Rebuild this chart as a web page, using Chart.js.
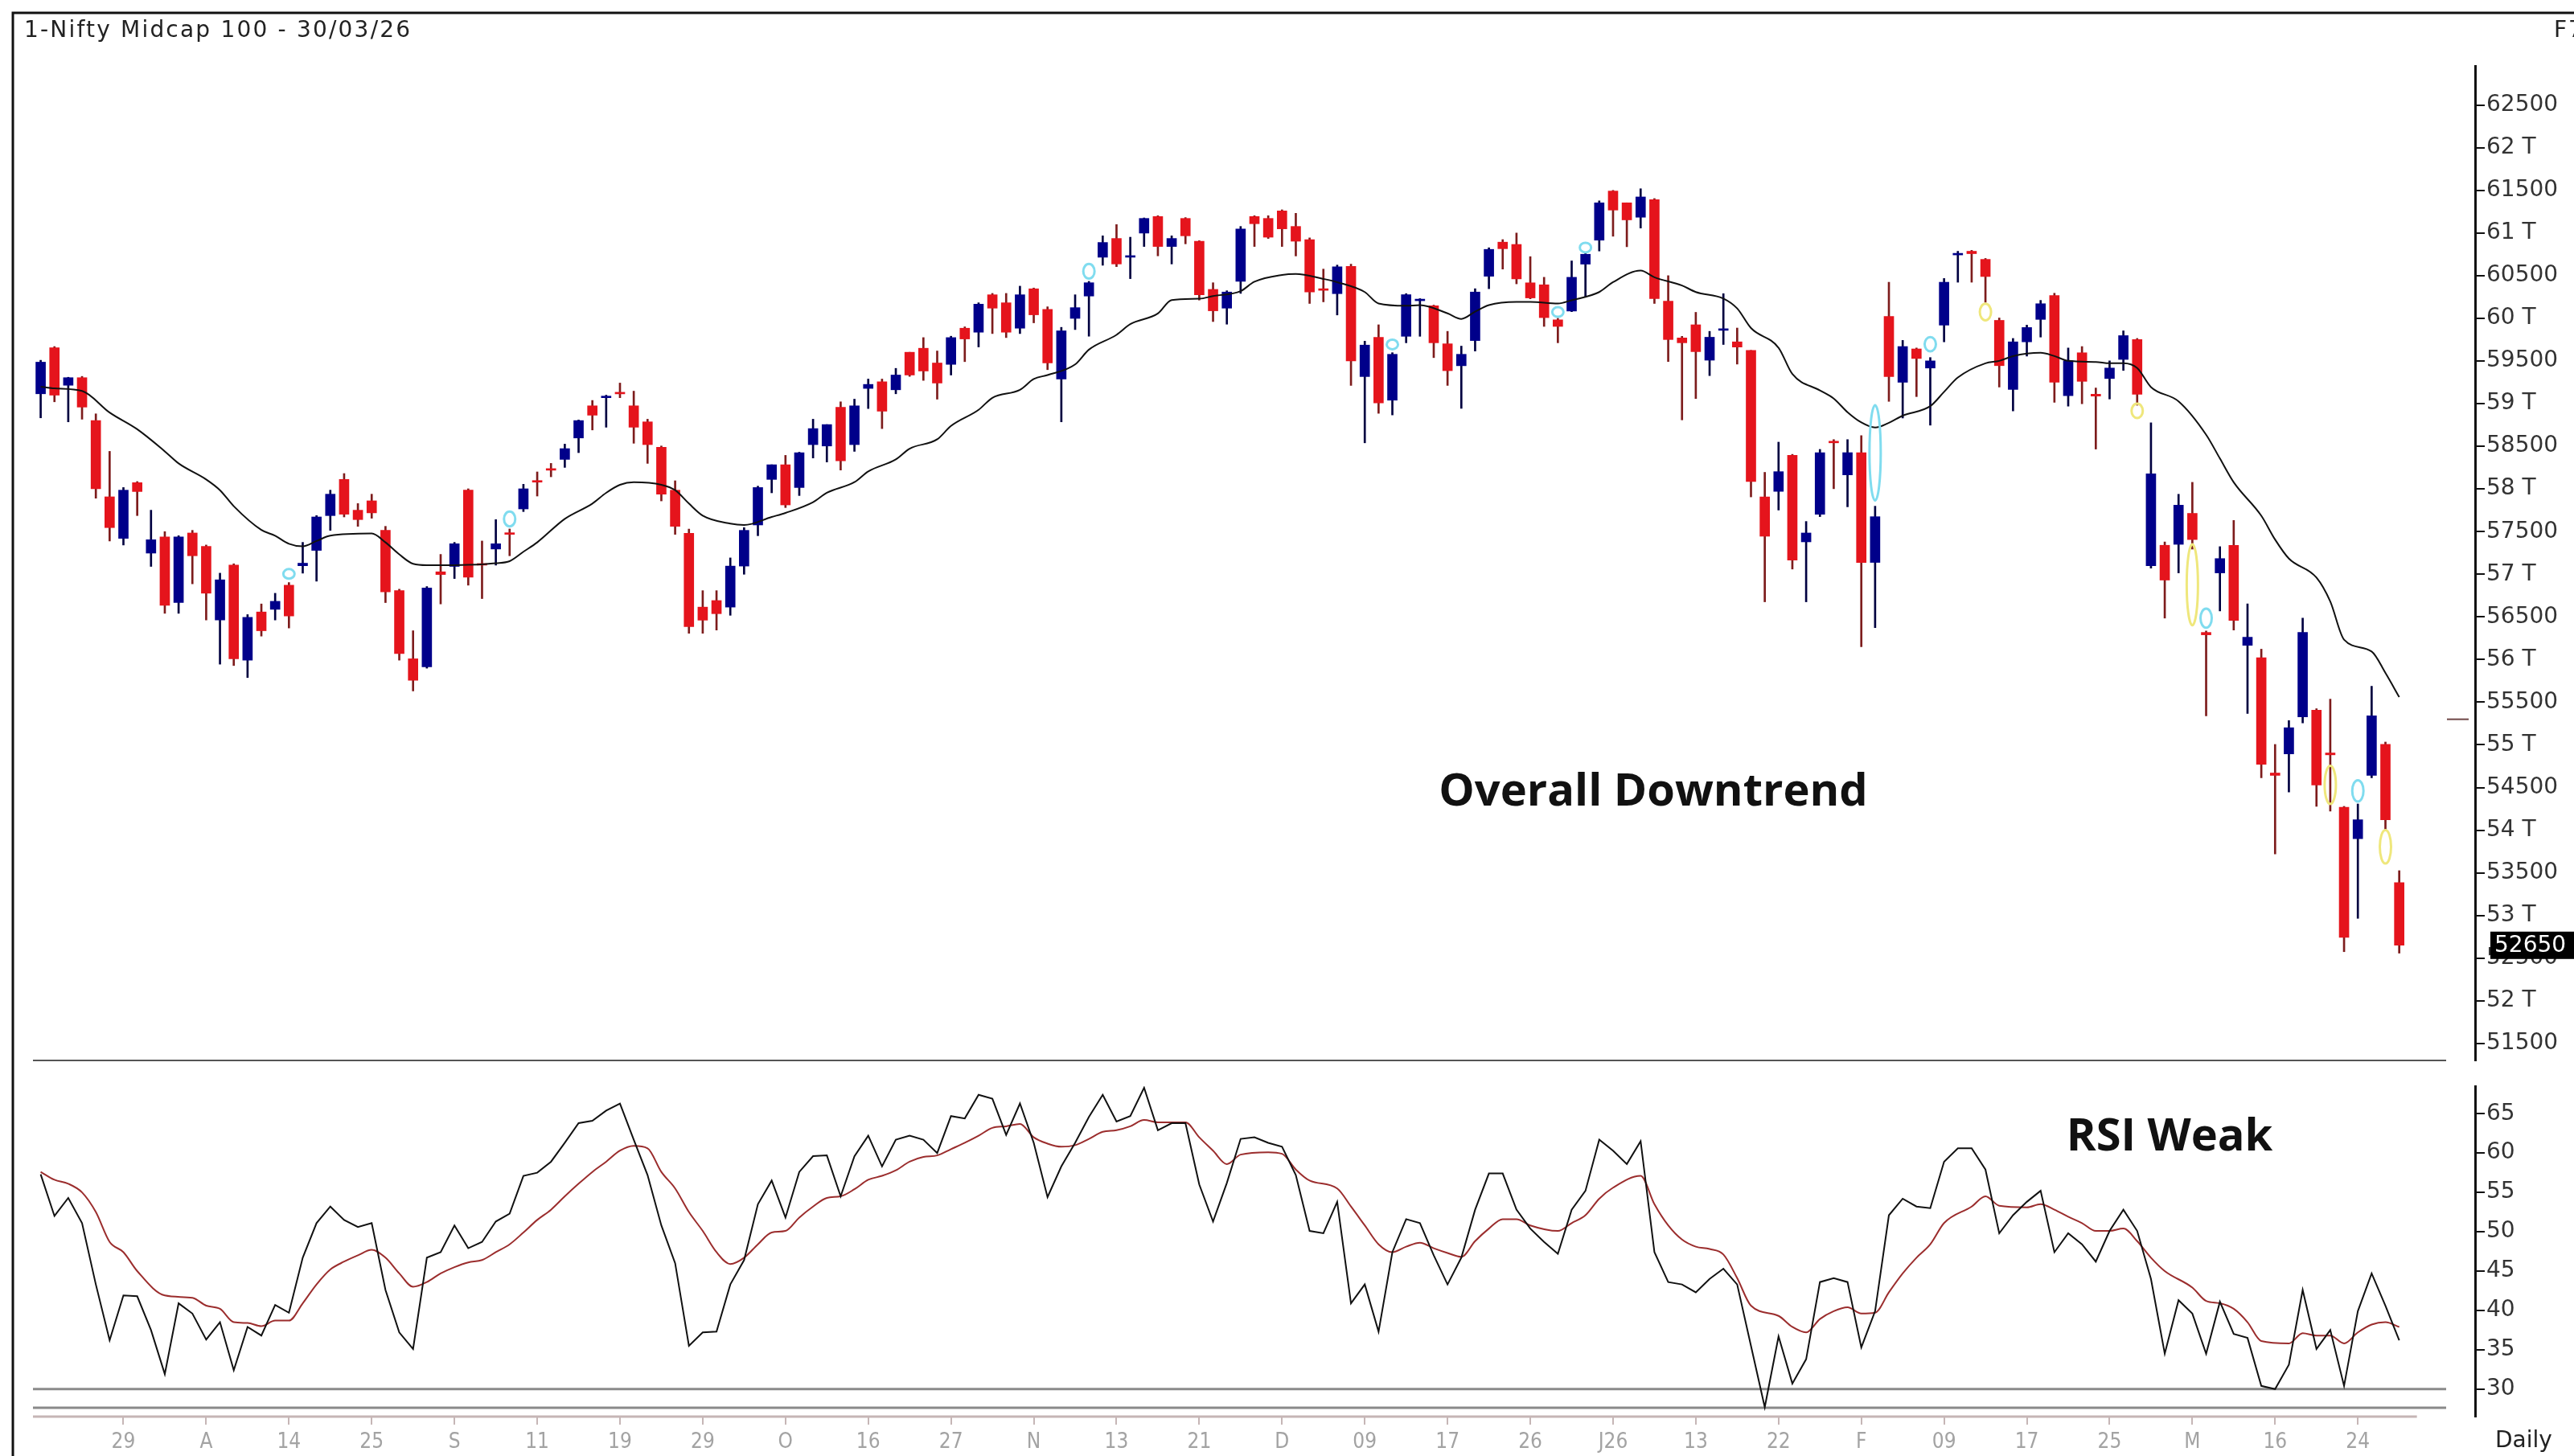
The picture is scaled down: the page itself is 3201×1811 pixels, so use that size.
<!DOCTYPE html>
<html>
<head>
<meta charset="utf-8">
<title>Nifty Midcap 100 - Daily</title>
<script src="https://cdn.jsdelivr.net/npm/chart.js@4.4.1/dist/chart.umd.min.js"></script>
<style>
  html, body { margin: 0; padding: 0; background: #fff; }
  #page { position: relative; width: 3201px; height: 1811px; overflow: hidden; background: #fff; }
  canvas { position: absolute; left: 0; }
  #priceChart { top: 0; }
  #rsiChart { top: 1330px; }
  .label { position: absolute; white-space: nowrap; line-height: 1; color: #222; font-family: "DejaVu Sans", sans-serif; }
  #title { left: 30px; top: 23px; font-size: 28px; letter-spacing: 2.2px; }
  #fkey { left: 3176px; top: 23px; font-size: 28px; letter-spacing: 2px; }
  #daily { left: 3103px; top: 1777px; font-size: 28px; }
  .note { position: absolute; white-space: nowrap; line-height: 1; transform: translate(-50%, -50%);
          font-family: "Open Sans", sans-serif; font-weight: 700; font-size: 56px; color: #111; }
  #downtrend { left: 2056px; top: 980px; }
  #rsiWeak { left: 2698px; top: 1409px; }
</style>
</head>
<body>
<div id="page">
  <canvas id="priceChart" width="3201" height="1330"></canvas>
  <canvas id="rsiChart" width="3201" height="481"></canvas>
  <div class="label" id="title">1-Nifty Midcap 100 - 30/03/26</div>
  <div class="label" id="fkey">F7</div>
  <div class="label" id="daily">Daily</div>
  <div class="note" id="downtrend">Overall Downtrend</div>
  <div class="note" id="rsiWeak">RSI Weak</div>
</div>
<script>
// daily candles, oldest first
const opens = [
  59116,59656,59216,59305,58802,57908,57421,58074,57248,57437,
  56668,57484,57327,56464,57107,55993,56558,56589,56872,57100,
  57280,57688,58112,57751,57861,57515,56809,56009,55915,57029,
  57092,57986,57123,57296,57484,57766,58096,58237,58347,58598,
  58975,59070,59125,58975,58787,58489,57986,57481,56615,56692,
  56615,57096,57578,58112,58284,58017,58520,58504,58959,58520,
  59179,59257,59163,59603,59650,59477,59461,59885,59838,60277,
  60183,59885,60347,60105,59289,60000,60262,60717,60937,60717,
  61000,61194,60843,61172,60905,60340,60120,60434,61194,61172,
  61260,61078,60924,60340,60290,60609,59318,59779,59041,59790,
  60207,60148,59702,59445,59740,60494,60894,60867,60417,60394,
  59983,60086,60636,60917,61493,61355,61186,61393,60202,59771,
  59925,59510,59860,59725,59625,57907,57972,58395,57380,57703,
  58560,58165,58426,57139,60022,59251,59642,59418,59921,60744,
  60787,60692,59977,59167,59725,59988,60267,59094,59597,59111,
  59295,59519,59753,57100,57340,57351,57714,56318,57016,57340,
  56167,56022,54670,54894,55329,55407,54905,54268,53900,54642,
  55005,53385
];
const highs = [
  59509,59670,59310,59320,58881,58441,58017,58087,57751,57500,
  57452,57515,57343,57013,57123,56527,56652,56777,56903,57374,
  57688,57986,58181,57829,57939,57562,56825,56338,56856,57233,
  57374,58002,57390,57641,57531,58055,58200,58300,58526,58809,
  59038,59100,59242,59147,58818,58504,58096,57530,56808,56808,
  57192,57547,58033,58284,58394,58431,58818,58755,59022,59053,
  59289,59289,59414,59603,59775,59618,59791,59901,60183,60293,
  60293,60378,60356,60136,59895,60277,60434,60968,61100,60952,
  61178,61204,60968,61182,60911,60418,60324,61078,61204,61204,
  61273,61232,60944,60578,60625,60636,59733,59925,59598,60290,
  60232,60156,59848,59675,60348,60828,60924,61001,60724,60482,
  60002,60674,60771,61378,61501,61355,61520,61405,60501,59790,
  60071,59848,60290,59887,59625,58195,58549,58406,57619,58464,
  58579,58579,58625,57798,60424,59742,59653,59541,60468,60787,
  60798,60703,60005,59765,59921,60211,60295,59653,59670,59184,
  59502,59854,59765,58776,57379,57938,58078,56335,57324,57631,
  56653,56122,55005,55285,56486,55424,55536,54279,54307,55687,
  55033,53525
];
const lows = [
  58834,59022,58787,58818,57892,57390,57343,57688,57092,56542,
  56542,56888,56464,55946,55930,55789,56275,56464,56370,57013,
  56919,57515,57672,57562,57657,56668,55993,55632,55899,56652,
  56950,56872,56715,57107,57217,57735,57917,58143,58253,58426,
  58692,58724,59070,58536,58300,57860,57468,56308,56308,56346,
  56519,57000,57452,57955,57782,57923,58363,58316,58222,58441,
  58943,58708,59116,59320,59273,59053,59336,59493,59665,59822,
  59775,59822,59948,59399,58787,59869,59791,60623,60607,60466,
  60843,60733,60638,60874,60215,59963,59932,60293,60843,60937,
  60843,60732,60175,60194,60040,59214,58541,58887,58868,59714,
  59790,59540,59214,58945,59617,60348,60578,60405,60230,59906,
  59714,60079,60252,60790,60963,60840,61059,60175,59494,58810,
  59060,59329,59694,59464,57907,56677,57753,57061,56677,57676,
  58003,57791,56150,56374,59027,58832,59083,58748,59725,60424,
  60424,60189,59195,58915,59558,59781,59016,58971,58999,58468,
  59055,59390,58982,57072,56486,57016,57295,55340,56570,56346,
  55368,54614,53721,54447,55257,54279,54223,52575,52966,54614,
  54011,52558
];
const closes = [
  59487,59100,59305,58960,58002,57547,57986,57970,57405,56636,
  57437,57217,56778,56935,56009,56495,56338,56683,56511,57130,
  57672,57939,57704,57641,57720,56793,56071,55757,56840,56997,
  57358,56966,57107,57358,57468,58002,58080,58220,58473,58802,
  58865,59075,59115,58724,58520,57939,57562,56385,56462,56538,
  57096,57515,58017,58284,57813,58425,58708,58755,58331,58975,
  59226,58912,59336,59336,59383,59242,59775,59759,60167,60120,
  59838,60277,60042,59477,59854,60126,60418,60890,60638,60730,
  61172,60843,60937,60968,60277,60089,60309,61047,61110,60952,
  61050,60905,60309,60329,60605,59502,59687,59010,59579,60278,
  60213,59714,59387,59579,60309,60809,60817,60463,60240,60009,
  59906,60482,60752,61355,61270,61155,61424,60233,59752,59714,
  59610,59779,59868,59664,58088,57446,58203,57165,57484,58426,
  58541,58426,57139,57675,59318,59670,59530,59502,60424,60750,
  60759,60491,59446,59725,59893,60172,59251,59502,59262,59089,
  59418,59798,59111,58178,56932,57810,57407,56290,57184,56458,
  56262,54771,54642,55201,56318,54530,54883,52743,54122,55340,
  54122,52650
];

// moving average line (null where it was not read)
const movingAvg = [
  59200,59180,null,59150,null,58896,null,58700,null,58441,
  58300,null,58112,57986,57798,null,57520,57452,57358,57327,
  57390,57452,null,null,57478,57374,57233,57123,57107,null,
  57107,57110,null,57130,57154,57264,57374,null,57650,null,
  57829,57955,58049,58080,null,58049,57986,57829,57688,null,
  57594,57578,null,57672,57719,null,57845,57955,null,58080,
  58206,null,58347,58473,null,58582,58739,null,58928,59069,
  null,59163,59289,59336,null,59461,59634,null,59807,59932,
  null,60058,60215,null,60230,60262,null,60320,60430,null,
  60510,60521,null,60463,60425,null,60309,60175,null,60148,
  60156,null,60059,59994,60079,60156,null,60194,60194,null,
  60175,60213,null,60309,60425,null,60560,60482,null,60386,
  60309,null,60233,60117,59887,null,59656,59348,null,59156,
  59060,58900,58780,58720,58776,58860,null,58971,59139,59307,
  null,59474,59502,59558,null,59597,59558,59502,null,59490,
  59474,59474,59418,59195,null,59027,null,58636,58357,58078,
  null,57686,57407,57184,null,56961,56681,56234,null,56095,
  55843,55560
];

// RSI and its signal line
const rsi = [
  57.3,52.0,54.3,51.1,43.3,36.2,41.9,41.8,37.5,31.9,
  40.9,39.6,36.3,38.5,32.4,37.9,36.8,40.7,39.7,46.7,
  51.1,53.2,51.5,50.6,51.1,42.6,37.2,35.1,46.7,47.4,
  50.8,47.9,48.7,51.3,52.3,57.1,57.5,58.9,61.3,63.8,
  64.1,65.4,66.3,61.7,57.2,50.8,46.0,35.5,37.2,37.3,
  43.3,46.4,53.5,56.5,51.8,57.6,59.6,59.7,54.5,59.6,
  62.2,58.3,61.7,62.2,61.7,60.0,64.7,64.4,67.4,66.9,
  62.3,66.3,61.3,54.4,58.3,61.3,64.6,67.4,64.0,64.7,
  68.3,62.9,63.8,63.8,56.0,51.3,56.2,61.8,62.0,61.3,
  60.8,57.2,50.1,49.8,53.8,40.9,43.3,37.3,47.4,51.6,
  51.1,47.0,43.3,46.7,52.8,57.4,57.4,52.8,50.4,48.7,
  47.2,52.8,55.2,61.7,60.3,58.6,61.5,47.4,43.6,43.3,
  42.3,44.0,45.3,43.3,35.5,27.7,36.7,30.7,33.8,43.6,
  44.1,43.6,35.3,39.9,52.1,54.2,53.2,53.0,58.9,60.6,
  60.6,57.9,49.8,52.1,53.8,55.2,47.4,49.8,48.4,46.2,
  50.1,52.8,50.1,44.0,34.5,41.3,39.6,34.5,41.1,37.0,
  36.5,30.4,30.0,33.1,42.6,35.1,37.5,30.4,39.9,44.7,
  40.6,36.2
];
const rsiSignal = [
  57.6,56.6,56.1,55.0,52.5,48.7,47.4,45.0,null,41.9,
  null,41.6,40.6,40.2,38.5,38.4,38.0,38.7,38.7,40.9,
  43.3,45.2,46.2,47.0,47.7,46.7,44.7,43.0,43.6,44.7,
  45.5,46.1,46.4,47.4,48.4,49.9,51.5,52.8,54.5,56.1,
  57.6,58.9,60.3,60.9,60.6,57.6,55.5,52.5,50.1,47.4,
  45.9,46.7,48.4,49.9,50.1,51.8,53.2,54.3,54.5,55.4,
  56.6,57.1,57.8,58.9,59.5,59.7,60.5,61.3,62.2,63.2,
  63.4,63.7,62.0,61.2,60.8,61.0,61.8,62.7,62.9,63.4,
  64.2,63.9,63.9,63.9,62.0,60.3,58.6,59.8,null,60.1,
  59.9,57.9,56.5,null,55.5,53.2,50.8,48.4,47.4,48.1,
  48.6,47.9,47.3,46.8,48.8,50.4,51.6,51.6,50.8,null,
  50.1,51.1,52.1,54.2,55.6,null,57.1,53.5,50.8,49.0,
  48.1,47.8,47.1,44.1,40.6,null,39.3,37.9,37.2,38.9,
  39.9,40.4,39.6,39.7,42.3,44.7,46.7,48.4,51.1,null,
  53.2,54.5,53.3,null,53.1,53.5,52.8,51.9,51.1,50.1,
  50.1,50.4,48.8,46.7,45.0,null,42.9,41.2,40.9,40.2,
  38.5,36.1,null,35.8,37.1,36.8,36.8,35.8,37.2,38.2,
  38.5,37.9
];

// date labels, one every 6 bars
const tickLabels = ['29','A','14','25','S','11','19','29','O','16','27','N','13','21',
                    'D','09','17','26','J26','13','22','F','09','17','25','M','16','24'];
// value axis ticks
const priceTicks = [51500,52000,52500,53000,53500,54000,54500,55000,55500,56000,56500,57000,
                    57500,58000,58500,59000,59500,60000,60500,61000,61500,62000,62500];
const rsiTicks = [30, 35, 40, 45, 50, 55, 60, 65];

// pattern markers drawn as small ellipses
const markBars  = [18, 34, 76, 98, 110, 112, 133, 137, 157, 168, 141, 152, 156, 166, 170];
const markLows  = [56950, 57562, 60466, 59648, 60040, 60790, 57865, 59614, 56374, 54335, 59977, 58832, 56402, 54307, 53609];
const markHighs = [57060, 57735, 60638, 59740, 60110, 60870, 58982, 59781, 56597, 54586, 60172, 59000, 57351, 54754, 54000];
const markKinds = ['cyan','cyan','cyan','cyan','cyan','cyan','cyan','cyan','cyan','cyan',
                   'yellow','yellow','yellow','yellow','yellow'];
const sideMarkLevel = 55300;

const barsPerTick = 6;
const blankBars = 5;
const axisWidth = 123;

const upColor = '#00008a';
const downColor = '#e5141c';
const upWick = '#000040';
const downWick = '#7d1c1c';
const markColors = { cyan: '#80dcef', yellow: '#efe77c' };
const axisFont = { family: 'DejaVu Sans', size: 28 };

Chart.defaults.font.family = 'DejaVu Sans';

const categories = Array.from({ length: closes.length + blankBars }, (_, i) => i);
const isUp = closes.map((c, i) => c >= opens[i]);

function hline(ctx, x1, x2, y) {
    ctx.beginPath();
    ctx.moveTo(x1, y);
    ctx.lineTo(x2, y);
    ctx.stroke();
}

function tickLabelAt(index) {
    if (index === 0 || index % barsPerTick !== 0) return '';
    return tickLabels[index / barsPerTick - 1] || '';
}

function rightAxis(min, max, tickValues, callback) {
    return {
        position: 'right',
        min: min,
        max: max,
        afterFit: scale => {
            // fixed axis width, and no extra room for the end labels
            scale.width = axisWidth;
            scale.paddingTop = 0;
            scale.paddingBottom = 0;
        },
        afterBuildTicks: scale => { scale.ticks = tickValues.map(v => ({ value: v })); },
        ticks: { autoSkip: false, padding: 2, color: '#333', font: axisFont, callback: callback },
        grid: { drawOnChartArea: false, drawTicks: true, tickLength: 12, color: '#111', lineWidth: 2 },
        border: { display: true, color: '#111', width: 3 }
    };
}

// frame, separators, pattern ellipses and the last price tag
const priceDecor = {
    id: 'priceDecor',
    afterDraw(chart) {
        const { ctx, chartArea, scales, width, height } = chart;
        const xs = scales.x, ys = scales.y;
        ctx.save();
        ctx.strokeStyle = '#111';
        ctx.lineWidth = 3;
        ctx.beginPath();
        ctx.moveTo(16, height);
        ctx.lineTo(16, 16);
        ctx.lineTo(width, 16);
        ctx.stroke();

        ctx.strokeStyle = '#555';
        ctx.lineWidth = 2;
        hline(ctx, chartArea.left - 1, chartArea.right - 36, chartArea.bottom);

        ctx.strokeStyle = '#6e4545';
        hline(ctx, chartArea.right - 35, chartArea.right - 8, ys.getPixelForValue(sideMarkLevel));

        ctx.lineWidth = 3;
        markBars.forEach((b, k) => {
            const cx = xs.getPixelForValue(b);
            const y1 = ys.getPixelForValue(markHighs[k]);
            const y2 = ys.getPixelForValue(markLows[k]);
            ctx.strokeStyle = markColors[markKinds[k]];
            ctx.beginPath();
            ctx.ellipse(cx, (y1 + y2) / 2, 7, Math.max((y2 - y1) / 2, 6), 0, 0, Math.PI * 2);
            ctx.stroke();
        });

        const last = closes[closes.length - 1];
        const py = ys.getPixelForValue(last);
        ctx.fillStyle = '#000';
        ctx.fillRect(chartArea.right + 19, py - 17, width - chartArea.right - 19, 34);
        ctx.fillStyle = '#fff';
        ctx.font = '28px "DejaVu Sans"';
        ctx.textBaseline = 'middle';
        ctx.fillText(String(last), chartArea.right + 24, py + 1);
        ctx.restore();
    }
};

const rsiDecor = {
    id: 'rsiDecor',
    beforeDatasetsDraw(chart) {
        const { ctx, chartArea, scales } = chart;
        ctx.save();
        ctx.strokeStyle = '#8a8a8a';
        ctx.lineWidth = 3;
        hline(ctx, chartArea.left - 1, chartArea.right - 36, scales.y.getPixelForValue(30));
        hline(ctx, chartArea.left - 1, chartArea.right - 36, chartArea.bottom - 11);

        const xEnd = scales.x.getPixelForValue(closes.length - 1) + 22;
        ctx.strokeStyle = '#c6b6b6';
        hline(ctx, chartArea.left - 1, xEnd, chartArea.bottom);
        ctx.lineWidth = 2;
        for (let i = barsPerTick; i < closes.length; i += barsPerTick) {
            const x = Math.round(scales.x.getPixelForValue(i));
            ctx.beginPath();
            ctx.moveTo(x, chartArea.bottom);
            ctx.lineTo(x, chartArea.bottom + 10);
            ctx.stroke();
        }
        ctx.restore();
    },
    afterDraw(chart) {
        const { ctx, height } = chart;
        ctx.save();
        ctx.strokeStyle = '#111';
        ctx.lineWidth = 3;
        ctx.beginPath();
        ctx.moveTo(16, 0);
        ctx.lineTo(16, height);
        ctx.stroke();
        ctx.restore();
    }
};

const common = {
    responsive: false,
    animation: false,
    devicePixelRatio: 1,
    events: [],
    plugins: { legend: { display: false }, tooltip: { enabled: false } }
};

new Chart(document.getElementById('priceChart'), {
    type: 'bar',
    data: {
        labels: categories,
        datasets: [
            {
                label: 'wick',
                data: lows.map((l, i) => [l, highs[i]]),
                backgroundColor: isUp.map(u => u ? upWick : downWick),
                barThickness: 2,
                grouped: false,
                order: 3
            },
            {
                label: 'body',
                data: opens.map((o, i) => [o, closes[i]]),
                backgroundColor: isUp.map(u => u ? upColor : downColor),
                barThickness: 12,
                minBarLength: 2,
                grouped: false,
                order: 2
            },
            {
                type: 'line',
                label: 'MA',
                data: movingAvg,
                borderColor: '#111',
                borderWidth: 2,
                pointRadius: 0,
                spanGaps: true,
                cubicInterpolationMode: 'monotone',
                order: 1
            }
        ]
    },
    options: {
        ...common,
        layout: { padding: { left: 42, right: 0, top: 82, bottom: 11 } },
        scales: {
            x: { display: false, offset: true },
            y: rightAxis(51300, 62960, priceTicks, v => v % 1000 === 0 ? (v / 1000) + ' T' : String(v))
        }
    },
    plugins: [priceDecor]
});

new Chart(document.getElementById('rsiChart'), {
    type: 'line',
    data: {
        labels: categories,
        datasets: [
            { label: 'RSI', data: rsi, borderColor: '#111', borderWidth: 2, pointRadius: 0, tension: 0 },
            { label: 'Signal', data: rsiSignal, borderColor: '#9b2d2d', borderWidth: 2, pointRadius: 0,
              spanGaps: true, cubicInterpolationMode: 'monotone' }
        ]
    },
    options: {
        ...common,
        layout: { padding: { left: 42, right: 0, top: 21, bottom: 0 } },
        scales: {
            x: {
                offset: true,
                afterFit: scale => { scale.height = 49; },
                grid: { display: false, drawTicks: false },
                border: { display: false },
                ticks: {
                    autoSkip: false, maxRotation: 0, minRotation: 0, padding: 17,
                    color: '#a3a3a3', font: { family: 'DejaVu Sans Condensed', size: 26 },
                    callback: (v, i) => tickLabelAt(i)
                }
            },
            y: rightAxis(26.5, 68.5, rsiTicks, v => String(v))
        }
    },
    plugins: [rsiDecor]
});
</script>
</body>
</html>
